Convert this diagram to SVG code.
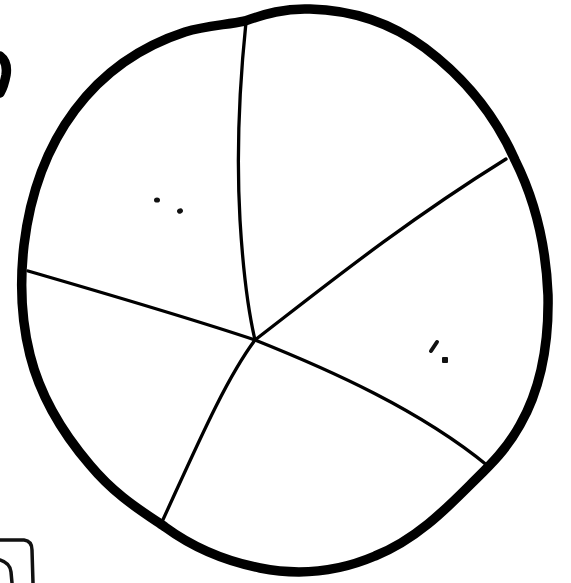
<svg xmlns="http://www.w3.org/2000/svg" width="571" height="583" viewBox="0 0 571 583">
<style>
.outline{fill:none;stroke:#000;stroke-width:9.5;stroke-linejoin:round;stroke-linecap:round}
.spoke{fill:none;stroke:#000;stroke-width:3.3;stroke-linecap:round}
.thin{fill:none;stroke:#111;stroke-width:3.5;stroke-linecap:round}
.dot{fill:#111}
</style>
<rect width="571" height="583" fill="#fff"/>
<g id="edge-scraps">
<path class="outline" d="M0,56 Q8,62 6,75 Q4,86 0,93" stroke-width="8"/>
<path class="thin" d="M0,540 L24,540 Q32,541 32,550 L33,583"/>
<path class="thin" d="M0,560 Q10,563 11,572 L12,583"/>
</g>
<g id="circle">
<path class="outline" d="M245,21 C265,14 285,8 310,9 C350,10 390,22 425,48 C465,78 495,115 515,160 C535,200 546,245 548,295 C549,345 540,390 520,425 C505,452 487,468 470,485 C445,510 415,540 375,556 C340,571 300,576 260,568 C225,561 195,549 165,527 C140,510 115,495 90,465 C60,430 40,395 30,355 C20,315 20,280 24,245 C30,195 45,150 75,110 C105,70 145,45 185,32 C205,26 225,25 245,21 Z"/>
</g>
<g id="spokes">
<path class="spoke" d="M246,22 C240,80 236,150 240,220 C243,270 248,310 255,340"/>
<path class="spoke" d="M255,340 C320,290 400,225 506,159"/>
<path class="spoke" d="M28,271 C100,292 180,315 255,340"/>
<path class="spoke" d="M255,340 C330,370 420,410 488,466"/>
<path class="spoke" d="M255,340 C225,380 195,450 161,524"/>
</g>
<g id="marks">
<ellipse class="dot" cx="157" cy="200" rx="3" ry="2.6"/>
<ellipse class="dot" cx="180" cy="211" rx="3" ry="2.6" transform="rotate(-30 180 211)"/>
<path d="M431,351 L437,342" stroke="#111" stroke-width="4" stroke-linecap="round"/>
<rect class="dot" x="442" y="357" width="6" height="6" rx="1"/>
</g>
</svg>
